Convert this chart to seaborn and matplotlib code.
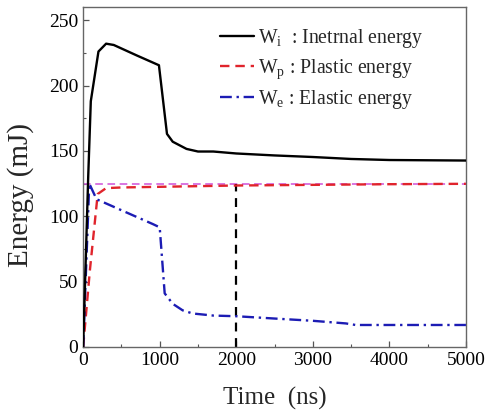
import numpy as np
import pandas as pd
import matplotlib
matplotlib.use("Agg")
import matplotlib.pyplot as plt
import seaborn as sns
from matplotlib.ticker import MultipleLocator

# ---- data ----
t_internal = [0, 66, 100, 200, 300, 400, 700, 990, 1095, 1170, 1350, 1500, 1700,
              2000, 2500, 3000, 3500, 4000, 5000]
e_internal = [0, 130, 188, 226, 232, 231, 223, 215.5, 163, 157, 151.5, 149.5, 149.5,
              148, 146.5, 145.3, 143.8, 143, 142.6]

t_plastic = [0, 87, 190, 300, 500, 1000, 1500, 2000, 3000, 4000, 5000]
e_plastic = [0, 58, 117, 121.5, 122, 122.5, 123, 123.5, 124, 124.5, 124.8]

t_elastic = [0, 80, 175, 600, 910, 1000, 1065, 1170, 1300, 1430, 1700, 2000, 2480,
             3000, 3430, 3560, 4000, 5000]
e_elastic = [0, 125, 113, 102, 94, 91.5, 41, 33, 28, 25.6, 24, 23.5, 21.8,
             20, 18, 16.8, 16.8, 16.8]

ref_level = 125          # horizontal reference (magenta)
ref_time = 2000          # vertical reference (black dashed)

labels = [r"W$_{\rm i}$  : Inetrnal energy",
          r"W$_{\rm p}$ : Plastic energy",
          r"W$_{\rm e}$ : Elastic energy"]

x_ticks = [0, 1000, 2000, 3000, 4000, 5000]
y_ticks = [0, 50, 100, 150, 200, 250]

# ---- style ----
sns.set_theme(style="ticks")
plt.rcParams["font.family"] = ["Liberation Serif", "DejaVu Serif"]
plt.rcParams["mathtext.fontset"] = "custom"
plt.rcParams["mathtext.rm"] = "Liberation Serif"
plt.rcParams["mathtext.it"] = "Liberation Serif:italic"

fig = plt.figure(figsize=(4.92, 4.16), dpi=100)
ax = fig.add_axes([0.169, 0.166, 0.778, 0.817])

df_i = pd.DataFrame({"t": t_internal, "E": e_internal})
df_p = pd.DataFrame({"t": t_plastic, "E": e_plastic})
df_e = pd.DataFrame({"t": t_elastic, "E": e_elastic})

# reference lines
ref_h = pd.DataFrame({"t": [x_ticks[0], x_ticks[-1]], "E": [ref_level, ref_level]})
sns.lineplot(data=ref_h, x="t", y="E", ax=ax, color="#d050d8", lw=1.1,
             linestyle=(0, (5, 3)), sort=False, zorder=1)
ref_v = pd.DataFrame({"t": [ref_time, ref_time], "E": [0, ref_level]})
sns.lineplot(data=ref_v, x="t", y="E", ax=ax, color="black", lw=1.6,
             linestyle=(0, (4, 3)), sort=False, zorder=2, estimator=None)

sns.lineplot(data=df_i, x="t", y="E", ax=ax, color="black", lw=1.7,
             sort=False, label=labels[0], zorder=4)
sns.lineplot(data=df_p, x="t", y="E", ax=ax, color="#e0242c", lw=1.7,
             linestyle=(0, (4, 2.5)), sort=False, label=labels[1], zorder=3)
sns.lineplot(data=df_e, x="t", y="E", ax=ax, color="#1c1cb4", lw=1.7,
             linestyle=(0, (5, 2, 1, 2)), sort=False, label=labels[2], zorder=3)

ax.set_xlim(0, 5000)
ax.set_ylim(0, 260)
ax.set_xticks(x_ticks)
ax.set_yticks(y_ticks)
ax.xaxis.set_minor_locator(MultipleLocator(500))
ax.yaxis.set_minor_locator(MultipleLocator(25))
ax.tick_params(which="both", direction="in", top=False, right=False,
               labelsize=14, colors="#555555", labelcolor="black")
ax.tick_params(which="major", length=4, width=0.9)
ax.tick_params(which="minor", length=2.5, width=0.8)
for s in ax.spines.values():
    s.set_visible(True)
    s.set_color("#666666")
    s.set_linewidth(1.0)

ax.set_xlabel("Time  (ns)", fontsize=18, labelpad=13)
ax.set_ylabel("Energy (mJ)", fontsize=21)
ax.yaxis.set_label_coords(-0.128, 0.447)

leg = ax.legend(loc="upper right", frameon=False, fontsize=14.2,
                handlelength=1.75, handletextpad=0.2, labelspacing=0.36,
                bbox_to_anchor=(0.92, 0.975), borderaxespad=0.2)

fig.savefig("out.png", dpi=100)
